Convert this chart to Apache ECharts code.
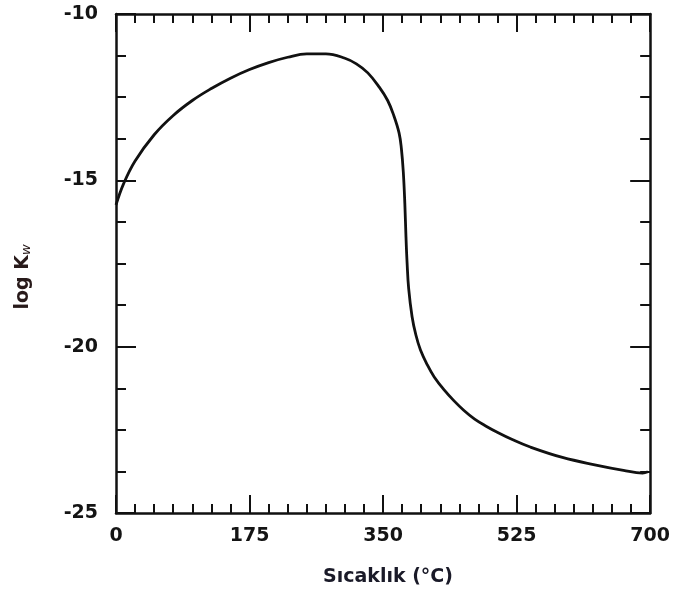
<!DOCTYPE html>
<html>
<head>
<meta charset="utf-8">
<script src="https://cdn.jsdelivr.net/npm/echarts@6/dist/echarts.min.js"></script>
<style>html,body{margin:0;padding:0;background:#fff}#c{width:673px;height:599px}</style>
</head>
<body>
<div id="c"></div>
<script>
var temps = [0,10,25,50,75,100,125,150,175,200,225,250,275,300,315,330,345,356,364,371,374,376.5,378.5,380,381.5,383.5,388,393,399,408,417,430,443,456,470,485,499,520,542,585,629,665,690,697];
var logKw = [-15.74,-15.1,-14.42,-13.63,-13.05,-12.6,-12.24,-11.93,-11.67,-11.46,-11.3,-11.2,-11.2,-11.33,-11.5,-11.77,-12.2,-12.6,-13.05,-13.58,-14.05,-14.75,-15.7,-16.7,-17.5,-18.25,-19.1,-19.65,-20.1,-20.55,-20.91,-21.3,-21.63,-21.92,-22.18,-22.39,-22.565,-22.8,-23.01,-23.33,-23.56,-23.72,-23.8,-23.76];
var xTickLabels = ['0','175','350','525','700'];
var yTickLabels = ['-25','-20','-15','-10'];
var xName = 'Sıcaklık (°C)';
var yNameMain = 'log K';
var yNameSub = 'w';

var chart = echarts.init(document.getElementById('c'), null, {renderer:'canvas'});
var axisLineStyle = {color:'#111', width:2.5};
var labelFont = {fontFamily:'DejaVu Sans', fontWeight:'bold', fontSize:19, color:'#141414'};
function xAxisBase(pos, show){
  return {
    type:'value', position:pos, min:0, max:700, interval:175,
    axisLine:{show:true, onZero:false, lineStyle:axisLineStyle},
    axisTick:{show:true, inside:true, length:18, lineStyle:{color:'#111', width:2}},
    minorTick:{show:true, splitNumber:7, length:9, lineStyle:{color:'#111', width:2}},
    splitLine:{show:false}, minorSplitLine:{show:false},
    axisLabel:Object.assign({show:show, margin:14, formatter:function(v){var i=Math.round(v/175);return xTickLabels[i];}}, labelFont)
  };
}
function yAxisBase(pos, show){
  return {
    type:'value', position:pos, min:-25, max:-10, interval:5,
    axisLine:{show:true, onZero:false, lineStyle:axisLineStyle},
    axisTick:{show:true, inside:true, length:20, lineStyle:{color:'#111', width:2}},
    minorTick:{show:true, splitNumber:4, length:10, lineStyle:{color:'#111', width:2}},
    splitLine:{show:false}, minorSplitLine:{show:false},
    axisLabel:Object.assign({show:show, margin:18, formatter:function(v){var i=Math.round((v+25)/5);return yTickLabels[i];}}, labelFont)
  };
}

var data = temps.map(function(t,i){return [t, logKw[i]];});
chart.setOption({
  animation:false,
  backgroundColor:'#fff',
  grid:{left:116, right:19, top:14, bottom:86, containLabel:false},
  xAxis:[xAxisBase('bottom', true), xAxisBase('top', false)],
  yAxis:[yAxisBase('left', true), yAxisBase('right', false)],
  graphic:[
    {type:'text', x:388, y:577, style:{text:xName, fontFamily:'DejaVu Sans', fontWeight:'bold', fontSize:19, fill:'#1a1a28', align:'center', verticalAlign:'middle'}},
    {type:'text', x:23, y:277, rotation:Math.PI/2,
     style:{text:yNameMain + '{sub|' + yNameSub + '}', fontFamily:'DejaVu Sans', fontWeight:'bold', fontSize:19, fill:'#281a1a', align:'center', verticalAlign:'middle',
       rich:{sub:{fontFamily:'DejaVu Sans', fontSize:13, fontStyle:'italic', fill:'#281a1a', verticalAlign:'bottom', padding:[7,0,0,0]}}}}
  ],
  series:[{
    type:'line', xAxisIndex:0, yAxisIndex:0, data:data, smooth:0.4, showSymbol:false,
    lineStyle:{color:'#111', width:2.8}
  }]
});
</script>
</body>
</html>
